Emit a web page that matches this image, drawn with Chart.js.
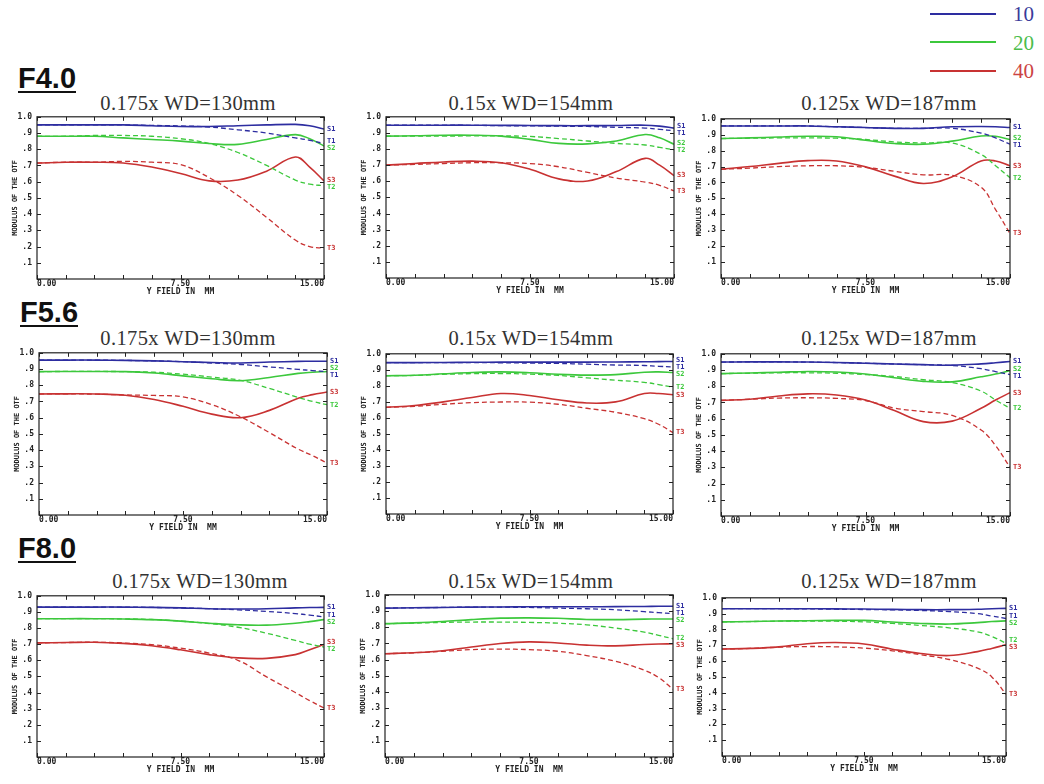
<!DOCTYPE html>
<html><head><meta charset="utf-8">
<script src="https://cdn.jsdelivr.net/npm/chart.js@4.4.1/dist/chart.umd.min.js"></script>
<style>
html,body{margin:0;padding:0;background:#fff;}
body{width:1044px;height:784px;position:relative;overflow:hidden;}
.rowlab{position:absolute;font-family:'Liberation Sans',Arial,sans-serif;font-weight:bold;font-size:29px;line-height:26px;color:#111;border-bottom:2px solid #111;white-space:nowrap;}
.sub{position:absolute;width:300px;text-align:center;font-family:'Liberation Serif','DejaVu Serif',serif;font-size:20.5px;line-height:24px;color:#333;white-space:nowrap;letter-spacing:0.4px;}
.lgline{position:absolute;height:2px;width:66px;}
.lgtxt{position:absolute;font-family:'Liberation Serif',serif;font-size:21px;line-height:24px;}
canvas{position:absolute;}
</style></head><body>
<script>
// ---------- data ----------
const field = [0, 1.5, 3, 4.5, 6, 7.5, 9, 10.5, 12, 13.5, 14.25, 15];
const xTickLabels = ['0.00', '7.50', '15.00'];
const seriesNames = ['S1','T1','S2','T2','S3','T3'];
const legendLabels = ['10','20','40'];
const rowLabels = ['F4.0','F5.6','F8.0'];
const subtitles = ['0.175x WD=130mm','0.15x WD=154mm','0.125x WD=187mm'];

// F4.0
const f40_w130_S1 = [.95,.95,.95,.95,.945,.94,.94,.945,.95,.953,.945,.925];
const f40_w130_T1 = [.95,.95,.95,.95,.947,.944,.937,.92,.90,.87,.855,.835];
const f40_w130_S2 = [.88,.88,.88,.87,.86,.85,.835,.83,.86,.89,.865,.82];
const f40_w130_T2 = [.88,.88,.885,.885,.88,.865,.835,.78,.70,.61,.585,.575];
const f40_w130_S3 = [.715,.72,.72,.715,.69,.65,.605,.61,.665,.752,.69,.605];
const f40_w130_T3 = [.715,.72,.72,.725,.72,.705,.625,.515,.38,.24,.20,.19];

const f40_w154_S1 = [.948,.948,.948,.948,.947,.946,.945,.945,.946,.948,.942,.93];
const f40_w154_T1 = [.948,.948,.948,.947,.945,.944,.942,.94,.935,.93,.922,.913];
const f40_w154_S2 = [.88,.882,.886,.886,.88,.86,.835,.832,.85,.89,.87,.83];
const f40_w154_T2 = [.88,.88,.88,.882,.882,.878,.865,.85,.835,.825,.81,.795];
const f40_w154_S3 = [.70,.71,.72,.725,.715,.675,.615,.602,.66,.742,.70,.635];
const f40_w154_T3 = [.70,.705,.71,.715,.715,.71,.69,.655,.62,.595,.575,.54];

const f40_w187_S1 = [.955,.955,.955,.955,.95,.945,.94,.94,.95,.952,.95,.945];
const f40_w187_T1 = [.955,.955,.955,.955,.95,.945,.94,.94,.94,.91,.88,.84];
const f40_w187_S2 = [.876,.88,.886,.89,.887,.865,.845,.84,.86,.892,.89,.87];
const f40_w187_T2 = [.876,.878,.88,.88,.878,.87,.855,.848,.848,.776,.705,.63];
const f40_w187_S3 = [.683,.70,.72,.737,.735,.698,.64,.594,.636,.735,.735,.705];
const f40_w187_T3 = [.683,.69,.70,.705,.705,.695,.67,.648,.645,.57,.43,.28];

// F5.6
const f56_w130_S1 = [.955,.955,.955,.953,.95,.945,.94,.937,.943,.947,.948,.948];
const f56_w130_T1 = [.955,.955,.955,.953,.95,.945,.937,.928,.913,.898,.89,.884];
const f56_w130_S2 = [.884,.885,.885,.884,.875,.858,.84,.828,.848,.873,.88,.885];
const f56_w130_T2 = [.884,.885,.885,.884,.88,.868,.85,.83,.78,.725,.70,.68];
const f56_w130_S3 = [.746,.747,.746,.738,.712,.67,.622,.60,.645,.72,.742,.758];
const f56_w130_T3 = [.746,.747,.745,.74,.737,.728,.68,.605,.508,.406,.366,.32];

const f56_w154_S1 = [.945,.945,.946,.947,.948,.948,.948,.948,.949,.95,.951,.952];
const f56_w154_T1 = [.945,.945,.945,.945,.944,.942,.94,.935,.93,.927,.922,.918];
const f56_w154_S2 = [.863,.866,.875,.883,.887,.882,.872,.867,.87,.885,.887,.883];
const f56_w154_T2 = [.863,.865,.872,.876,.877,.873,.865,.85,.835,.822,.808,.791];
const f56_w154_S3 = [.666,.677,.70,.727,.752,.74,.713,.693,.70,.752,.752,.744];
const f56_w154_T3 = [.666,.672,.685,.695,.699,.698,.685,.66,.635,.595,.56,.508];

const f56_w187_S1 = [.949,.95,.95,.949,.946,.942,.937,.933,.93,.938,.945,.953];
const f56_w187_T1 = [.949,.95,.95,.949,.946,.942,.937,.933,.928,.908,.89,.872];
const f56_w187_S2 = [.878,.882,.886,.891,.888,.875,.852,.83,.827,.858,.875,.896];
const f56_w187_T2 = [.878,.88,.883,.883,.88,.872,.86,.84,.823,.77,.715,.664];
const f56_w187_S3 = [.713,.72,.74,.753,.746,.715,.65,.582,.585,.664,.715,.76];
const f56_w187_T3 = [.713,.72,.727,.729,.725,.712,.665,.644,.62,.53,.434,.30];

// F8.0
const f80_w130_S1 = [.93,.93,.93,.93,.928,.925,.92,.918,.92,.925,.927,.928];
const f80_w130_T1 = [.93,.93,.93,.93,.928,.925,.92,.913,.903,.89,.88,.869];
const f80_w130_S2 = [.858,.858,.858,.856,.852,.843,.83,.82,.818,.83,.84,.852];
const f80_w130_T2 = [.858,.858,.858,.857,.853,.843,.828,.805,.768,.723,.70,.682];
const f80_w130_S3 = [.708,.71,.712,.705,.69,.665,.635,.615,.612,.635,.665,.698];
const f80_w130_T3 = [.708,.71,.712,.707,.697,.675,.645,.60,.497,.40,.35,.304];

const f80_w154_S1 = [.918,.92,.922,.924,.925,.926,.926,.926,.927,.928,.929,.929];
const f80_w154_T1 = [.918,.92,.922,.924,.924,.922,.918,.914,.908,.896,.89,.884];
const f80_w154_S2 = [.822,.827,.835,.847,.856,.858,.855,.848,.847,.85,.851,.851];
const f80_w154_T2 = [.822,.825,.83,.832,.832,.83,.825,.815,.795,.77,.75,.729];
const f80_w154_S3 = [.637,.643,.655,.678,.70,.71,.703,.69,.685,.694,.697,.698];
const f80_w154_T3 = [.637,.642,.652,.662,.665,.662,.652,.625,.59,.535,.49,.418];

const f80_w187_S1 = [.931,.931,.931,.931,.93,.929,.927,.925,.925,.928,.931,.933];
const f80_w187_T1 = [.931,.931,.931,.93,.928,.926,.924,.92,.913,.90,.885,.869];
const f80_w187_S2 = [.848,.85,.853,.855,.857,.857,.847,.838,.834,.843,.85,.854];
const f80_w187_T2 = [.848,.85,.852,.853,.852,.848,.838,.825,.81,.785,.755,.713];
const f80_w187_S3 = [.676,.68,.69,.71,.717,.708,.675,.648,.635,.66,.68,.703];
const f80_w187_T3 = [.676,.68,.688,.692,.69,.682,.665,.64,.61,.555,.50,.39];

const panelSeries = [
  [f40_w130_S1,f40_w130_T1,f40_w130_S2,f40_w130_T2,f40_w130_S3,f40_w130_T3],
  [f40_w154_S1,f40_w154_T1,f40_w154_S2,f40_w154_T2,f40_w154_S3,f40_w154_T3],
  [f40_w187_S1,f40_w187_T1,f40_w187_S2,f40_w187_T2,f40_w187_S3,f40_w187_T3],
  [f56_w130_S1,f56_w130_T1,f56_w130_S2,f56_w130_T2,f56_w130_S3,f56_w130_T3],
  [f56_w154_S1,f56_w154_T1,f56_w154_S2,f56_w154_T2,f56_w154_S3,f56_w154_T3],
  [f56_w187_S1,f56_w187_T1,f56_w187_S2,f56_w187_T2,f56_w187_S3,f56_w187_T3],
  [f80_w130_S1,f80_w130_T1,f80_w130_S2,f80_w130_T2,f80_w130_S3,f80_w130_T3],
  [f80_w154_S1,f80_w154_T1,f80_w154_S2,f80_w154_T2,f80_w154_S3,f80_w154_T3],
  [f80_w187_S1,f80_w187_T1,f80_w187_S2,f80_w187_T2,f80_w187_S3,f80_w187_T3]
];

// ---------- layout & style ----------
// plot area left, top, right, bottom ; subtitle centre x, y
const boxes = [
  [37,115,324,279,188,102.7],[386,115,674,278,531,102.5],[721,117,1010,278,889,102.5],
  [39,351,327,515,188,338],[386,352,673,514,531,337.5],[721,352,1010,516,889,337.5],
  [37,594,324,757,200,581],[385,593,673,757,531,580.5],[722,596,1006,756,889,580.5]
];
const rowLabelPos = [[18,65.3],[20,298.7],[18,535.3]];
const BLUE='#2d2da0', GREEN='#3cc83c', RED='#c83232';
const seriesColors=[BLUE,BLUE,GREEN,GREEN,RED,RED];
const legendColors=[BLUE,GREEN,RED];
const legendTextColors=['#3a3a9a','#4cbc4c','#cc4444'];
const legendY=[13.5,42,71];
const legendTextY=[13.7,42.5,70.8];

const PADT=8, PADR=26, YW=37, XH=22;
const tickFont={family:"'DejaVu Sans Mono', monospace", size:8, weight:'bold'};

const framePlugin = {
  id:'frameTicks',
  afterDraw(chart){
    const {ctx, chartArea:a, scales:{x,y}} = chart;
    ctx.save();
    ctx.strokeStyle='#222'; ctx.lineWidth=1;
    ctx.beginPath();
    x.ticks.forEach(t=>{
      const px=Math.round(x.getPixelForValue(t.value))+0.5;
      ctx.moveTo(px,a.bottom); ctx.lineTo(px,a.bottom-4);
      ctx.moveTo(px,a.top); ctx.lineTo(px,a.top+4);
    });
    y.ticks.forEach(t=>{
      const py=Math.round(y.getPixelForValue(t.value))+0.5;
      ctx.moveTo(a.left,py); ctx.lineTo(a.left+4,py);
      ctx.moveTo(a.right,py); ctx.lineTo(a.right-4,py);
    });
    ctx.stroke();
    ctx.lineWidth=1.2;
    ctx.strokeRect(a.left,a.top,a.right-a.left,a.bottom-a.top);
    // end-of-curve labels
    const items = chart.data.datasets.map((ds,i)=>{
      const meta=chart.getDatasetMeta(i);
      const pt=meta.data[meta.data.length-1];
      return {y:pt.y, text:ds.label, color:ds.borderColor};
    });
    items.sort((p,q)=>p.y-q.y);
    const gap=7;
    for(let k=0;k<30;k++){
      for(let i=1;i<items.length;i++){
        const d=items[i].y-items[i-1].y;
        if(d<gap){const s=(gap-d)/2; items[i].y+=s; items[i-1].y-=s;}
      }
    }
    ctx.font="bold 7px 'DejaVu Sans Mono', monospace";
    ctx.textBaseline='middle'; ctx.textAlign='left';
    items.forEach(it=>{ctx.fillStyle=it.color; ctx.fillText(it.text,a.right+3,it.y);});
    ctx.restore();
  }
};

function xLabel(v){
  if(Math.abs(v)<1e-6) return xTickLabels[0];
  if(Math.abs(v-7.5)<1e-6) return xTickLabels[1];
  if(Math.abs(v-15)<1e-6) return xTickLabels[2];
  return '';
}
function yLabel(v){
  if(v<0.001) return '';
  if(v>0.999) return '1.0';
  return '.'+Math.round(v*10);
}

function addDiv(cls, text, left, top, extra){
  const d=document.createElement('div');
  d.className=cls; d.textContent=text;
  d.style.left=left+'px'; d.style.top=top+'px';
  if(extra) Object.assign(d.style, extra);
  document.body.appendChild(d);
  return d;
}

// row labels
rowLabels.forEach((t,i)=>addDiv('rowlab',t,rowLabelPos[i][0],rowLabelPos[i][1]));
// legend
legendLabels.forEach((t,i)=>{
  addDiv('lgline','',930,legendY[i]-1,{background:legendColors[i]});
  addDiv('lgtxt',t,1013,legendTextY[i]-12,{color:legendTextColors[i]});
});

// panels
boxes.forEach((b,pi)=>{
  const [L,T,R,B,cx,cy]=b;
  addDiv('sub',subtitles[pi%3],cx-150,cy-12);
  const cv=document.createElement('canvas');
  const w=(R-L)+YW+PADR, h=(B-T)+PADT+XH;
  cv.width=w; cv.height=h;
  cv.style.left=(L-YW)+'px'; cv.style.top=(T-PADT)+'px';
  cv.style.width=w+'px'; cv.style.height=h+'px';
  document.body.appendChild(cv);
  const datasets=panelSeries[pi].map((arr,si)=>({
    label:seriesNames[si],
    data:field.map((x,k)=>({x:x,y:arr[k]})),
    borderColor:seriesColors[si],
    borderWidth: si%2 ? 1.3 : 1.6,
    borderDash: si%2 ? [5,3] : [],
    pointRadius:0, fill:false, tension:0.4
  }));
  new Chart(cv,{
    type:'line',
    data:{datasets},
    options:{
      responsive:false, animation:false,
      layout:{padding:{left:0,top:PADT,right:PADR,bottom:0}},
      plugins:{legend:{display:false},tooltip:{enabled:false}},
      scales:{
        x:{type:'linear',min:0,max:15,
           afterFit(s){s.height=XH;},
           grid:{display:false,drawTicks:false}, border:{display:false},
           ticks:{stepSize:1.5,autoSkip:false,maxRotation:0,minRotation:0,align:'inner',padding:0,color:'#222',font:tickFont,callback:v=>xLabel(v)},
           title:{display:true,text:'Y FIELD IN  MM',color:'#222',font:{family:"'DejaVu Sans Mono', monospace",size:8,weight:'bold'},padding:{top:0,bottom:4.5}}},
        y:{min:0,max:1,
           afterFit(s){s.width=YW;},
           grid:{display:false,drawTicks:false}, border:{display:false},
           ticks:{stepSize:0.1,padding:5,color:'#222',font:tickFont,callback:v=>yLabel(v)},
           title:{display:true,text:'MODULUS OF THE OTF',color:'#222',font:{family:"'DejaVu Sans Mono', monospace",size:7,weight:'bold'},padding:{top:10.8,bottom:0}}}
      }
    },
    plugins:[framePlugin]
  });
});
</script>
</body></html>
